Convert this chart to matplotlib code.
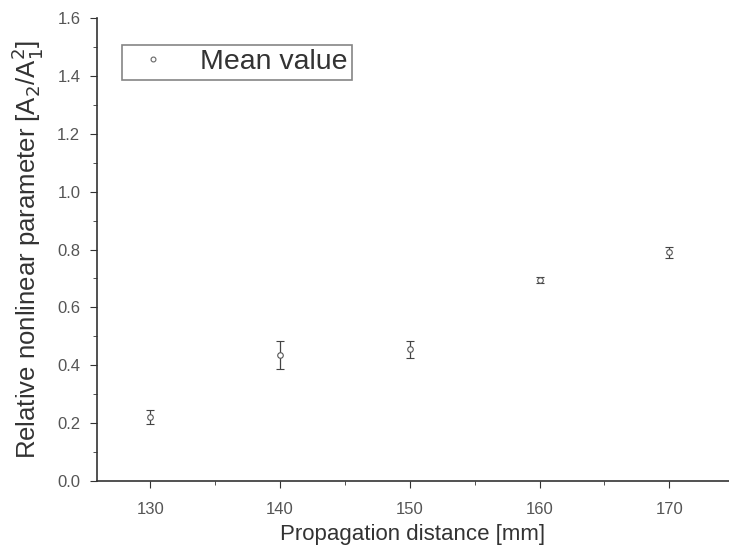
import matplotlib
matplotlib.use('Agg')
import matplotlib.pyplot as plt
from matplotlib.ticker import MultipleLocator
from matplotlib.lines import Line2D

distance = [130, 140, 150, 160, 170]
mean_value = [0.22, 0.435, 0.455, 0.695, 0.79]
error = [0.025, 0.05, 0.03, 0.01, 0.02]

plt.rcParams['font.family'] = ['Liberation Sans', 'DejaVu Sans']

fig = plt.figure(figsize=(7.29, 5.52), dpi=100)
ax = fig.add_axes([0.133, 0.129, 0.867, 0.838])

ax.errorbar(distance, mean_value, yerr=error, fmt='o', ms=4, mfc='white',
            mec='#555555', mew=0.8, ecolor='#444444', elinewidth=0.9,
            capsize=3, capthick=0.9)

ax.set_xlim(125.9, 174.6)
ax.set_ylim(0, 1.6)
ax.xaxis.set_major_locator(MultipleLocator(10))
ax.xaxis.set_minor_locator(MultipleLocator(5))
ax.yaxis.set_major_locator(MultipleLocator(0.2))
ax.yaxis.set_minor_locator(MultipleLocator(0.1))
ax.yaxis.set_major_formatter(plt.FuncFormatter(lambda v, p: '%.1f' % v))

for s in ['top', 'right']:
    ax.spines[s].set_visible(False)
for s in ['left', 'bottom']:
    ax.spines[s].set_color('#333333')
    ax.spines[s].set_linewidth(1.2)

ax.tick_params(which='major', direction='out', length=5, color='#333333',
               labelsize=12, labelcolor='#555555', pad=7)
ax.tick_params(axis='x', which='major', pad=10)
ax.tick_params(which='minor', direction='out', length=3, color='#333333')

ax.set_xlabel('Propagation distance [mm]', fontsize=16, color='#333333',
              labelpad=5)
ax.set_ylabel('Relative nonlinear parameter [A$_2$/A$_1^2$]', fontsize=18.5,
              color='#333333', labelpad=9)

handle = Line2D([], [], ls='none', marker='o', ms=3.5, mfc='white',
                mec='#666666', mew=0.8)
leg = ax.legend([handle], ['Mean value'], loc='upper left',
                bbox_to_anchor=(0.0396, 0.942), borderaxespad=0,
                fontsize=20.5, fancybox=False, edgecolor='#666666',
                handletextpad=0.72, borderpad=0.15, handlelength=1.87)
leg.get_frame().set_linewidth(1.2)
for t in leg.get_texts():
    t.set_color('#333333')

fig.savefig('out.png', dpi=100)
